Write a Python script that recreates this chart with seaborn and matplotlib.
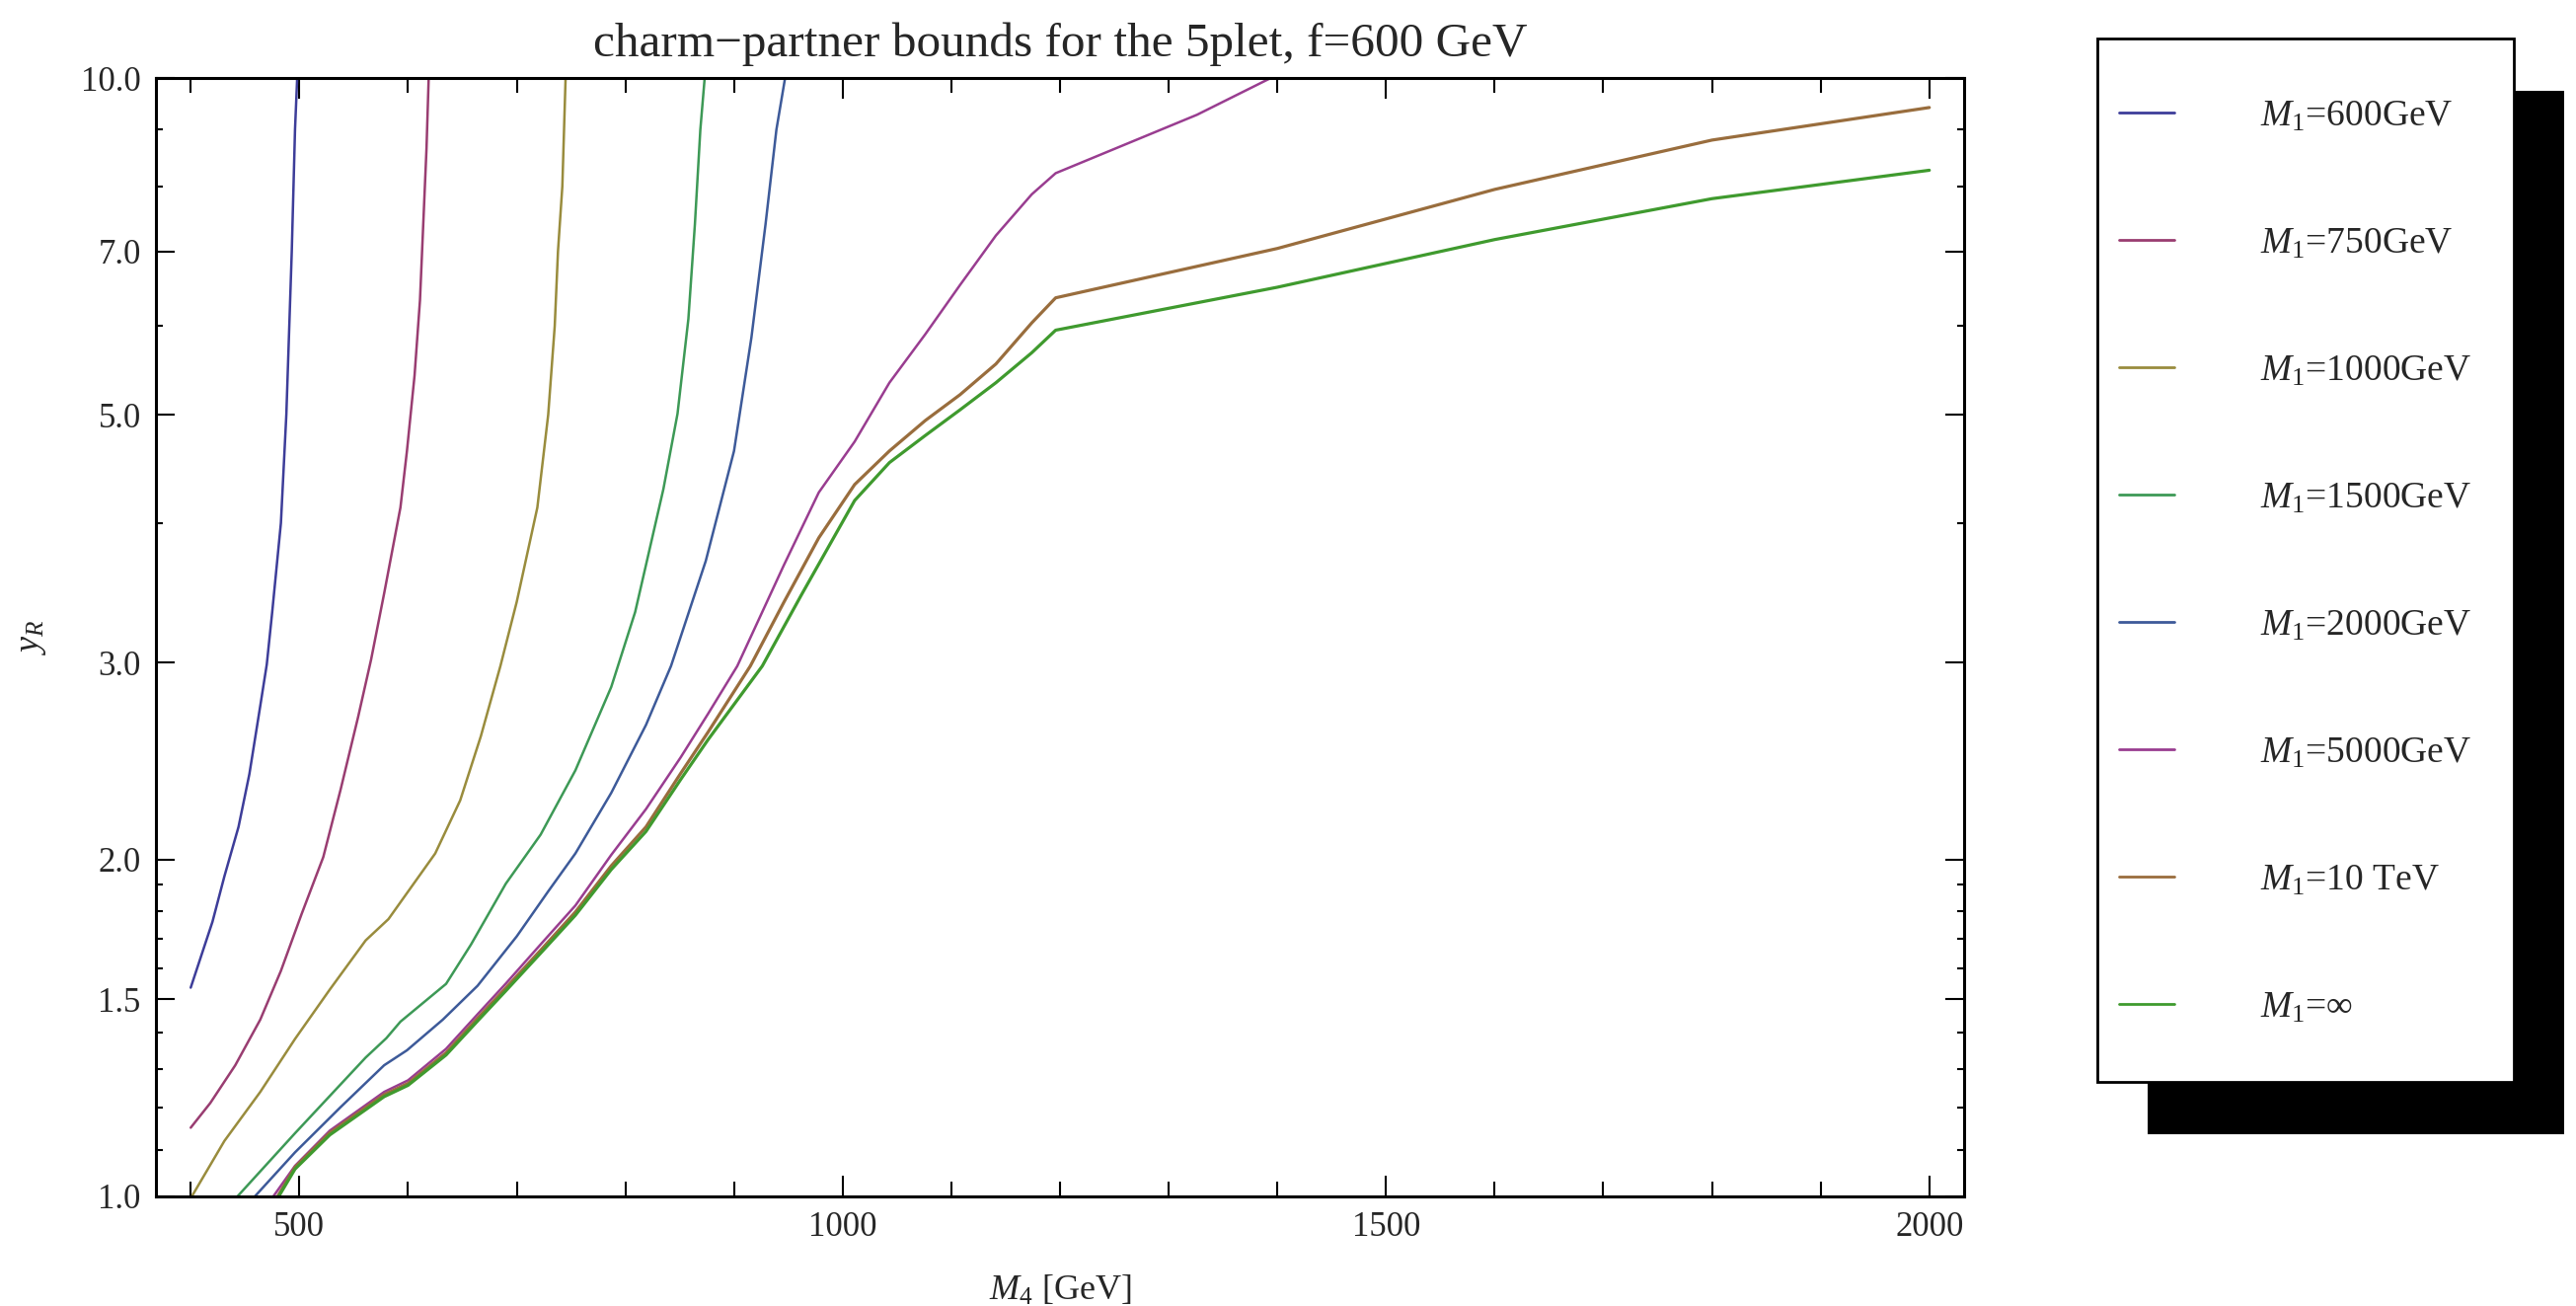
import numpy as np
import pandas as pd
import matplotlib
matplotlib.use("Agg")
import matplotlib.pyplot as plt
from matplotlib.patches import Rectangle
from matplotlib.ticker import FixedLocator, NullFormatter
import seaborn as sns

# ---- bound curves: M4 [GeV] vs y_R for each M1 ----
m4_600 = [400, 420, 431, 444, 454, 464, 470, 475, 483, 488, 493, 496, 498]
yr_600 = [1.537, 1.76, 1.933, 2.14, 2.386, 2.745, 2.99, 3.33, 4.0, 5.0, 7.0, 9.0, 10.0]

m4_750 = [400, 418, 441, 464, 483, 502, 522, 538, 554, 566, 578, 593, 599, 606, 611, 614, 617, 619]
yr_750 = [1.152, 1.212, 1.31, 1.439, 1.591, 1.788, 2.011, 2.312, 2.682, 3.02, 3.46, 4.13, 4.64, 5.42, 6.33, 7.40, 8.65, 10.0]

m4_1000 = [401, 431, 464, 496, 528, 561, 582, 625, 648, 667, 685, 700, 719, 729, 735, 738, 742, 745]
yr_1000 = [1.0, 1.121, 1.24, 1.383, 1.531, 1.694, 1.77, 2.026, 2.26, 2.579, 2.98, 3.40, 4.13, 5.0, 6.0, 7.0, 8.0, 10.0]

m4_1500 = [443, 496, 561, 580, 593, 635, 658, 690, 722, 754, 787, 809, 819, 835, 848, 858, 864, 869, 873]
yr_1500 = [1.0, 1.139, 1.331, 1.385, 1.433, 1.549, 1.68, 1.904, 2.106, 2.404, 2.854, 3.33, 3.67, 4.29, 5.01, 6.09, 7.40, 8.99, 10.0]

m4_2000 = [459, 496, 538, 578, 599, 632, 664, 700, 729, 754, 787, 819, 842, 874, 900, 916, 929, 939, 947]
yr_2000 = [1.0, 1.095, 1.202, 1.31, 1.351, 1.439, 1.543, 1.708, 1.874, 2.026, 2.295, 2.64, 2.98, 3.70, 4.64, 5.86, 7.40, 8.99, 10.0]

m4_5000 = [476, 496, 528, 578, 600, 635, 664, 690, 722, 754, 787, 819, 851, 876, 903, 946, 978, 1011,
           1043, 1076, 1108, 1141, 1174, 1196, 1326, 1394]
yr_5000 = [1.0, 1.065, 1.145, 1.24, 1.27, 1.355, 1.455, 1.55, 1.68, 1.82, 2.02, 2.22, 2.47, 2.70, 2.98, 3.67,
           4.26, 4.73, 5.34, 5.90, 6.53, 7.23, 7.87, 8.22, 9.27, 10.0]

m4_10tev = [480, 496, 528, 578, 600, 635, 664, 690, 722, 754, 787, 819, 851, 876, 915, 946, 978, 1011,
            1043, 1076, 1108, 1141, 1174, 1196, 1400, 1600, 1800, 2000]
yr_10tev = [1.0, 1.062, 1.14, 1.233, 1.262, 1.344, 1.443, 1.536, 1.66, 1.796, 1.975, 2.14, 2.39, 2.60, 2.98,
            3.40, 3.88, 4.33, 4.64, 4.94, 5.21, 5.55, 6.04, 6.36, 7.04, 7.95, 8.80, 9.41]

m4_inf = [481, 496, 528, 578, 600, 635, 664, 690, 722, 754, 787, 819, 851, 876, 926, 962, 1011,
          1043, 1076, 1108, 1141, 1174, 1196, 1400, 1600, 1800, 2000]
yr_inf = [1.0, 1.058, 1.135, 1.228, 1.257, 1.338, 1.435, 1.527, 1.65, 1.784, 1.96, 2.12, 2.36, 2.56, 2.98,
          3.45, 4.19, 4.53, 4.79, 5.05, 5.34, 5.68, 5.95, 6.50, 7.17, 7.80, 8.27]

labels = [r"$M_1$=600GeV", r"$M_1$=750GeV", r"$M_1$=1000GeV", r"$M_1$=1500GeV",
          r"$M_1$=2000GeV", r"$M_1$=5000GeV", r"$M_1$=10 TeV", r"$M_1$=$\infty$"]
colors = ["#3d3d99", "#993d71", "#998c3d", "#3d9956",
          "#3d5a99", "#993d90", "#996d3d", "#3f9a2e"]
widths = [1.8, 1.8, 1.8, 1.8, 1.8, 1.8, 2.3, 2.3]

x_major = [500, 1000, 1500, 2000]
x_minor = [400, 600, 700, 800, 900, 1100, 1200, 1300, 1400, 1600, 1700, 1800, 1900]
y_major = [1.0, 1.5, 2.0, 3.0, 5.0, 7.0, 10.0]
y_major_labels = ["1.0", "1.5", "2.0", "3.0", "5.0", "7.0", "10.0"]
y_minor = [1.1, 1.2, 1.3, 1.4, 1.6, 1.7, 1.8, 1.9, 4.0, 6.0, 8.0, 9.0]

series = [(m4_600, yr_600), (m4_750, yr_750), (m4_1000, yr_1000), (m4_1500, yr_1500),
          (m4_2000, yr_2000), (m4_5000, yr_5000), (m4_10tev, yr_10tev), (m4_inf, yr_inf)]

frames = []
for lab, (xs, ys) in zip(labels, series):
    frames.append(pd.DataFrame({"M4": xs, "yR": ys, "curve": lab}))
df = pd.concat(frames, ignore_index=True)

sns.set_style("ticks")
plt.rcParams["font.family"] = ["Liberation Serif", "DejaVu Serif"]
plt.rcParams["mathtext.fontset"] = "custom"
plt.rcParams["mathtext.rm"] = "Liberation Serif"
plt.rcParams["mathtext.it"] = "Liberation Serif:italic"
plt.rcParams["mathtext.bf"] = "Liberation Serif:bold"

W, H = 2610, 1323
fig = plt.figure(figsize=(W / 100, H / 100), dpi=100)
ax = fig.add_axes([158 / W, 1 - 1212 / H, (1990 - 158) / W, (1212 - 79) / H])

for lab, col, lw in zip(labels, colors, widths):
    sub = df[df["curve"] == lab]
    sns.lineplot(data=sub, x="M4", y="yR", ax=ax, color=col, linewidth=lw,
                 sort=False, estimator=None, label=lab, legend=False)

ax.set_yscale("log")
ax.set_xlim(368, 2032)
ax.set_ylim(1.0, 10.0)

ax.xaxis.set_major_locator(FixedLocator(x_major))
ax.xaxis.set_minor_locator(FixedLocator(x_minor))
ax.xaxis.set_minor_formatter(NullFormatter())
ax.set_xticklabels([str(v) for v in x_major])
ax.yaxis.set_major_locator(FixedLocator(y_major))
ax.yaxis.set_minor_locator(FixedLocator(y_minor))
ax.yaxis.set_minor_formatter(NullFormatter())
ax.set_yticklabels(y_major_labels)

ax.tick_params(axis="both", which="both", direction="in", top=True, right=True,
               labelsize=25, width=1.5, color="black")
ax.tick_params(axis="x", which="major", length=15, pad=11)
ax.tick_params(axis="x", which="minor", length=11)
ax.tick_params(axis="y", which="major", length=14, pad=11)
ax.tick_params(axis="y", which="minor", length=5)
for sp in ax.spines.values():
    sp.set_linewidth(2.2)
    sp.set_color("black")

ax.set_xlabel(r"$M_4$ [GeV]", fontsize=26, labelpad=22)
ax.set_ylabel(r"$y_R$", fontsize=26, labelpad=24)
ax.set_title("charm\u2212partner bounds for the 5plet, f=600 GeV", fontsize=35.5, pad=16)

# legend panel with a solid drop shadow
box_x0, box_y0, box_x1, box_y1 = 2125, 39, 2547, 1096
shadow_dx, shadow_dy = 51, 53
fig.add_artist(Rectangle(((box_x0 + shadow_dx) / W, 1 - (box_y1 + shadow_dy) / H),
                         (box_x1 - box_x0) / W, (box_y1 - box_y0) / H,
                         transform=fig.transFigure, facecolor="black", edgecolor="none", zorder=1))
fig.add_artist(Rectangle((box_x0 / W, 1 - box_y1 / H),
                         (box_x1 - box_x0) / W, (box_y1 - box_y0) / H,
                         transform=fig.transFigure, facecolor="white", edgecolor="black",
                         linewidth=2.0, zorder=2))

handles, labs = ax.get_legend_handles_labels()
leg = fig.legend(handles, labs, loc="upper left", bbox_to_anchor=(2147 / W, 1 - 101 / H),
                 frameon=False, fontsize=27, handlelength=1.5, handletextpad=2.3,
                 labelspacing=2.52, borderpad=0, borderaxespad=0)
leg.set_zorder(3)
for h in leg.legend_handles:
    h.set_linewidth(2.0)

fig.savefig("out.png", dpi=100)
